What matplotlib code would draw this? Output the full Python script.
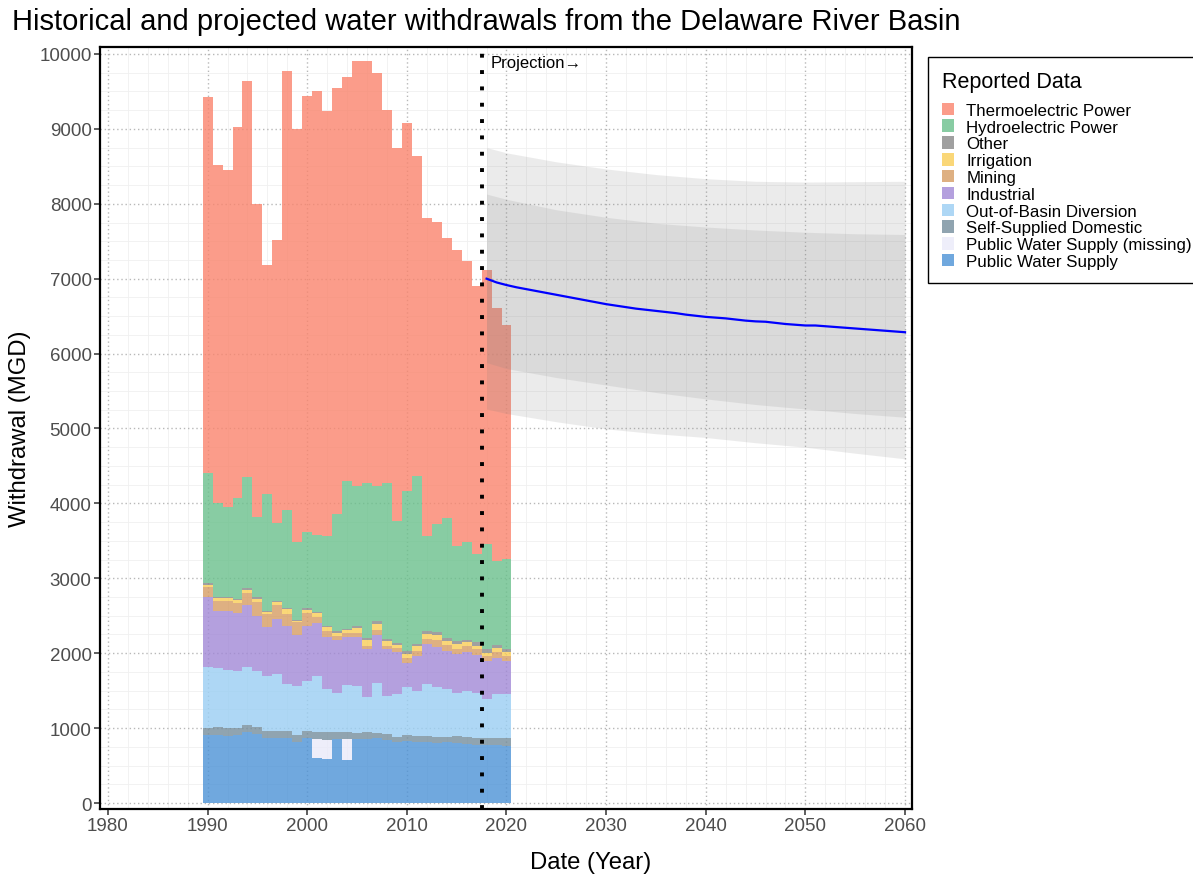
import numpy as np
import matplotlib
matplotlib.use('Agg')
import matplotlib.pyplot as plt
from matplotlib.patches import Patch
from matplotlib.ticker import MultipleLocator

plt.rcParams['font.family'] = ['Liberation Sans', 'DejaVu Sans']

# --- reported withdrawals (MGD), stacked bottom -> top ---
years = np.arange(1990, 2021)

public_supply = [912, 912, 899, 912, 943, 921, 863, 868, 868, 810, 868, 596, 583, 854, 574, 854,
                 854, 868, 841, 819, 832, 819, 810, 801, 810, 801, 788, 779, 779, 770, 765]
public_missing = [0, 0, 0, 0, 0, 0, 0, 0, 0, 0, 0, 258, 263, 0, 280, 0,
                  0, 0, 0, 0, 0, 0, 0, 0, 0, 0, 0, 0, 0, 0, 0]
self_domestic = [90, 98, 98, 89, 98, 89, 94, 98, 98, 102, 89, 89, 97, 89, 89, 76,
                 98, 67, 80, 67, 76, 71, 80, 76, 76, 89, 98, 89, 89, 93, 98]
out_of_basin = [814, 790, 779, 766, 774, 752, 734, 760, 623, 646, 667, 752, 584, 531, 628, 637,
                468, 665, 503, 567, 645, 610, 699, 676, 636, 583, 614, 605, 525, 593, 597]
industrial = [935, 770, 787, 765, 828, 739, 663, 730, 770, 685, 743, 704, 694, 700, 645, 649,
              632, 647, 626, 569, 314, 462, 529, 525, 512, 516, 515, 505, 502, 484, 440]
mining = [129, 131, 129, 134, 156, 178, 169, 182, 168, 169, 169, 80, 79, 49, 49, 49,
          48, 69, 46, 45, 71, 72, 75, 104, 71, 71, 75, 78, 63, 71, 62]
irrigation = [36, 36, 40, 44, 47, 48, 31, 50, 63, 22, 43, 53, 45, 44, 51, 67,
              70, 74, 64, 45, 51, 56, 67, 56, 57, 63, 55, 44, 47, 54, 49]
other = [20, 13, 14, 13, 20, 28, 14, 13, 13, 14, 20, 18, 13, 34, 7, 27,
         29, 44, 30, 24, 45, 33, 41, 40, 41, 35, 36, 45, 51, 44, 45]
hydroelectric = [1464, 1255, 1210, 1344, 1488, 1067, 1553, 1031, 1309, 1030, 1015, 1028, 1202, 1557, 1976, 1869,
                 2078, 1794, 2087, 1634, 2132, 2247, 1268, 1443, 1598, 1269, 1308, 1179, 1402, 1118, 1202]
thermoelectric = [5023, 4513, 4495, 4963, 5281, 4175, 3066, 3789, 5854, 5521, 5821, 5924, 5683, 5688, 5398, 5674,
                  5625, 5517, 4979, 4975, 4908, 4263, 4237, 4040, 3742, 3956, 3743, 3574, 3662, 3377, 3124]

# --- projection ---
proj_years = np.arange(2018, 2061)
proj_mean = [7000, 6950, 6915, 6885, 6860, 6835, 6810, 6785, 6760, 6735, 6710, 6685, 6660, 6640, 6620,
             6600, 6585, 6570, 6555, 6540, 6520, 6505, 6490, 6480, 6470, 6455, 6440, 6430, 6425, 6410,
             6395, 6385, 6375, 6375, 6365, 6355, 6345, 6335, 6325, 6315, 6305, 6295, 6285]
band_years = [2018, 2020, 2025, 2030, 2035, 2040, 2045, 2050, 2055, 2060]
outer_hi = [8750, 8680, 8560, 8465, 8390, 8335, 8300, 8290, 8295, 8300]
inner_hi = [8130, 8060, 7920, 7820, 7740, 7690, 7650, 7620, 7600, 7590]
inner_lo = [5880, 5800, 5680, 5580, 5480, 5395, 5320, 5260, 5200, 5150]
outer_lo = [5260, 5200, 5090, 4995, 4930, 4880, 4810, 4750, 4670, 4595]

layers = [
    ('Public Water Supply', public_supply, '#4c92d6'),
    ('Public Water Supply (missing)', public_missing, '#eaeaf9'),
    ('Self-Supplied Domestic', self_domestic, '#748d9c'),
    ('Out-of-Basin Diversion', out_of_basin, '#9acef3'),
    ('Industrial', industrial, '#a188d6'),
    ('Mining', mining, '#d69c63'),
    ('Irrigation', irrigation, '#f9cd56'),
    ('Other', other, '#888888'),
    ('Hydroelectric Power', hydroelectric, '#6ac08c'),
    ('Thermoelectric Power', thermoelectric, '#fa846d'),
]
ALPHA = 0.8

fig = plt.figure(figsize=(11.93, 8.78), dpi=100, facecolor='white')
ax = fig.add_axes([100 / 1193, 1 - 810 / 878, 812 / 1193, 762 / 878])

# grid
ax.xaxis.set_major_locator(MultipleLocator(10))
ax.xaxis.set_minor_locator(MultipleLocator(2))
ax.yaxis.set_major_locator(MultipleLocator(1000))
ax.yaxis.set_minor_locator(MultipleLocator(250))
ax.grid(which='minor', color='#f0f0f0', linewidth=0.6, linestyle='-')
ax.grid(which='major', color='#b8b8b8', linewidth=1.0, linestyle=(0, (1, 2)))
ax.set_axisbelow(True)

bottom = np.zeros(len(years))
handles = []
for name, vals, col in layers:
    vals = np.array(vals, dtype=float)
    ax.bar(years, vals, width=1.0, bottom=bottom, color=col, alpha=ALPHA,
           linewidth=0, zorder=2)
    bottom += vals
    handles.append(Patch(facecolor=col, alpha=ALPHA, edgecolor='none', label=name))

# projection ribbons + mean
ax.fill_between(band_years, outer_lo, outer_hi, color='#7f7f7f', alpha=0.15, linewidth=0, zorder=3)
ax.fill_between(band_years, inner_lo, inner_hi, color='#7f7f7f', alpha=0.15, linewidth=0, zorder=3)
ax.plot(proj_years, proj_mean, color='#0000ff', linewidth=1.6, zorder=4)

ax.axvline(2017.5, color='black', linewidth=2.8, linestyle=(0, (1, 3.2)), zorder=5)
ax.text(2018.4, 9890, 'Projection\u2192', fontsize=12, va='center', ha='left', color='black')

ax.set_xlim(1979.2, 2060.7)
ax.set_ylim(-80, 10093)

for s in ax.spines.values():
    s.set_linewidth(1.6)
    s.set_color('black')
ax.tick_params(which='major', length=4, width=1.1, color='#333333', labelsize=13.5,
               labelcolor='#4d4d4d', pad=2)
ax.tick_params(which='minor', length=0)

ax.set_xlabel('Date (Year)', fontsize=17.2)
ax.xaxis.set_label_coords((591 - 100) / 812, -0.055)
ax.set_ylabel('Withdrawal (MGD)', fontsize=17.2, labelpad=6)
fig.text(12 / 1193, 1 - 22 / 878, 'Historical and projected water withdrawals from the Delaware River Basin',
         fontsize=21, ha='left', va='center')

leg = fig.legend(handles=handles[::-1], loc='upper left',
                 bbox_to_anchor=(928 / 1193, 1 - 58 / 878), bbox_transform=fig.transFigure,
                 borderaxespad=0, title='Reported Data', title_fontsize=15.5, fontsize=12.2,
                 frameon=True, fancybox=False, edgecolor='black', framealpha=1,
                 handlelength=0.75, handleheight=0.75, handletextpad=0.7,
                 labelspacing=0.1, borderpad=0.8, alignment='left')
leg._legend_box.sep = 8
leg.get_frame().set_linewidth(1.0)

fig.savefig('out.png', dpi=100, facecolor='white')
